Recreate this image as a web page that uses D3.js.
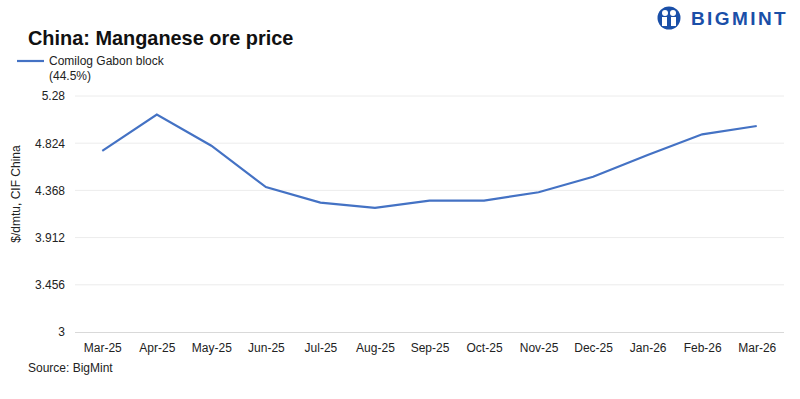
<!DOCTYPE html>
<html>
<head>
<meta charset="utf-8">
<script src="https://cdn.jsdelivr.net/npm/d3@7"></script>
<style>
  body { margin: 0; background: #fff; }
  svg { font-family: "Liberation Sans", Arial, sans-serif; }
</style>
</head>
<body>
<div id="chart"></div>
<script>
// data
const months = ["Mar-25", "Apr-25", "May-25", "Jun-25", "Jul-25", "Aug-25", "Sep-25",
  "Oct-25", "Nov-25", "Dec-25", "Jan-26", "Feb-26", "Mar-26"]
const prices = [4.75, 5.10, 4.80, 4.40, 4.25, 4.20, 4.27, 4.27, 4.35, 4.50, 4.71, 4.91, 4.99]
const yTicks = [3, 3.456, 3.912, 4.368, 4.824, 5.28]
const seriesName = ["Comilog Gabon block", "(44.5%)"]

const dataset = months.map((m, i) => ({ month: m, price: prices[i] }))
const xAccessor = d => d.month
const yAccessor = d => d.price

const dimensions = {
  width: 800,
  height: 399,
  margin: { top: 96, right: 16, bottom: 67, left: 75 },
}
dimensions.boundedWidth = dimensions.width - dimensions.margin.left - dimensions.margin.right
dimensions.boundedHeight = dimensions.height - dimensions.margin.top - dimensions.margin.bottom

const wrapper = d3.select("#chart")
  .append("svg")
    .attr("width", dimensions.width)
    .attr("height", dimensions.height)

const bounds = wrapper.append("g")
  .attr("transform", `translate(${dimensions.margin.left},${dimensions.margin.top})`)

// scales
const xScale = d3.scalePoint()
  .domain(months)
  .range([0, dimensions.boundedWidth])
  .padding(0.5)

const yScale = d3.scaleLinear()
  .domain([3, 5.28])
  .range([dimensions.boundedHeight, 0])

// gridlines
bounds.append("g")
  .selectAll("line")
  .data(yTicks.slice(1))
  .join("line")
    .attr("x1", 0)
    .attr("x2", dimensions.boundedWidth)
    .attr("y1", d => yScale(d))
    .attr("y2", d => yScale(d))
    .attr("stroke", "#ececec")
    .attr("stroke-width", 1)

// y axis
const yAxis = bounds.append("g")
  .call(d3.axisLeft(yScale).tickValues(yTicks).tickSize(0).tickPadding(10)
    .tickFormat(d => d3.format("")(+d.toFixed(3))))
yAxis.select(".domain").remove()
yAxis.selectAll("text")
  .attr("font-size", 12)
  .attr("fill", "#222")

// x axis
const xAxis = bounds.append("g")
  .attr("transform", `translate(0,${dimensions.boundedHeight})`)
  .call(d3.axisBottom(xScale).tickSize(0).tickPadding(11))
xAxis.select(".domain")
  .attr("stroke", "#d9d9d9")
  .attr("d", `M0,0.5H${dimensions.boundedWidth}`)
xAxis.selectAll("text")
  .attr("font-size", 12)
  .attr("fill", "#222")

// line
const lineGenerator = d3.line()
  .x(d => xScale(xAccessor(d)))
  .y(d => yScale(yAccessor(d)))

bounds.append("path")
  .datum(dataset)
  .attr("d", lineGenerator)
  .attr("fill", "none")
  .attr("stroke", "#4472c4")
  .attr("stroke-width", 2.2)

// y label
wrapper.append("text")
  .attr("transform", `translate(20,${dimensions.margin.top + 98}) rotate(-90)`)
  .attr("text-anchor", "middle")
  .attr("font-size", 12)
  .attr("fill", "#222")
  .text("$/dmtu, CIF China")

// title
wrapper.append("text")
  .attr("x", 28)
  .attr("y", 45)
  .attr("font-size", 19.9)
  .attr("font-weight", "bold")
  .attr("fill", "#111")
  .text("China: Manganese ore price")

// legend
wrapper.append("line")
  .attr("x1", 17).attr("x2", 44)
  .attr("y1", 61).attr("y2", 61)
  .attr("stroke", "#4472c4")
  .attr("stroke-width", 2.2)
wrapper.append("g")
  .selectAll("text")
  .data(seriesName)
  .join("text")
    .attr("x", 49)
    .attr("y", (d, i) => 65 + i * 15)
    .attr("font-size", 12)
    .attr("fill", "#222")
    .text(d => d)

// source
wrapper.append("text")
  .attr("x", 28)
  .attr("y", 372)
  .attr("font-size", 12)
  .attr("fill", "#222")
  .text("Source:  BigMint")

// logo
const logo = wrapper.append("g").attr("transform", "translate(669,18)")
logo.append("circle").attr("r", 11.5).attr("fill", "#1a4fa8")
logo.append("circle").attr("cx", -4).attr("cy", -5).attr("r", 3).attr("fill", "#fff")
logo.append("circle").attr("cx", 4).attr("cy", -5).attr("r", 3).attr("fill", "#fff")
logo.append("rect").attr("x", -7).attr("y", -1).attr("width", 5).attr("height", 9).attr("fill", "#fff")
logo.append("rect").attr("x", 2).attr("y", -1).attr("width", 5).attr("height", 9).attr("fill", "#fff")
logo.append("text")
  .attr("x", 22)
  .attr("y", 7)
  .attr("font-size", 19)
  .attr("font-weight", "bold")
  .attr("letter-spacing", 2.4)
  .attr("fill", "#1a4fa8")
  .text("BIGMINT")
</script>
</body>
</html>
